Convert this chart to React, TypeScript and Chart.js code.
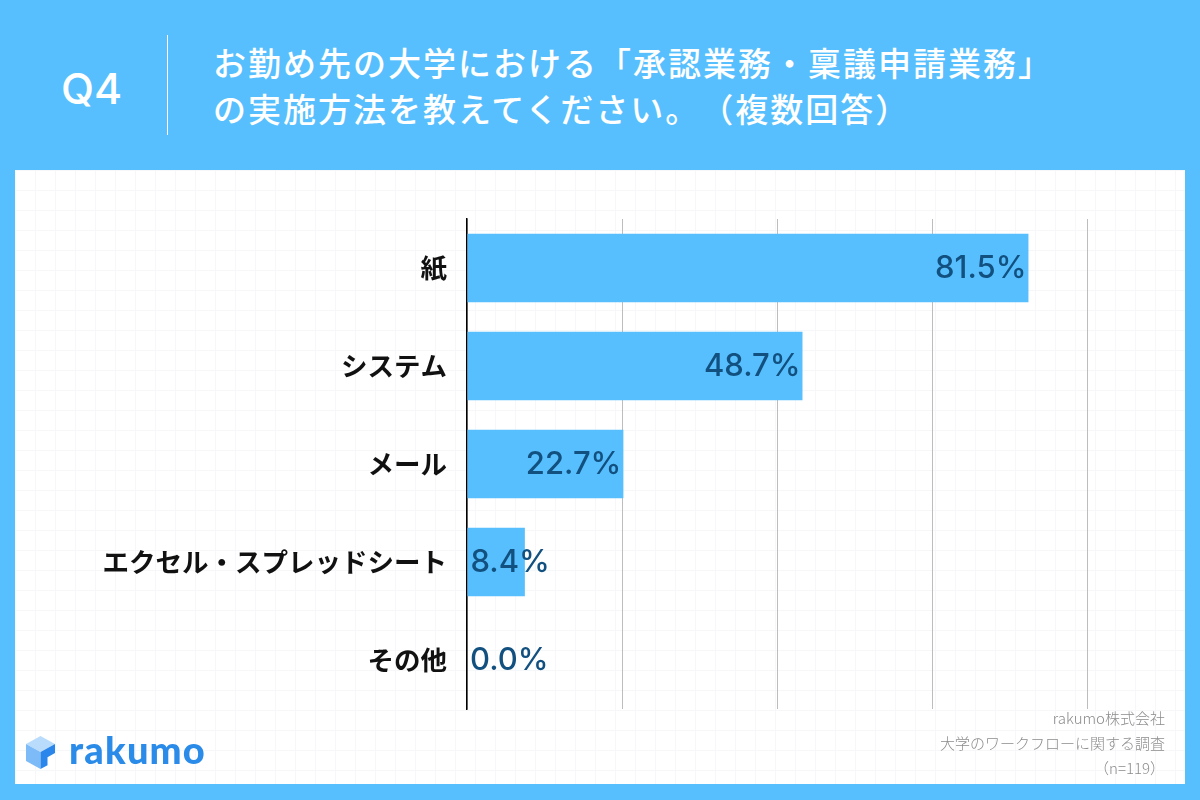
import React, { useEffect, useRef } from "react";
import { Chart, registerables } from "chart.js";

Chart.register(...registerables);

const categories = ["紙", "システム", "メール", "エクセル・スプレッドシート", "その他"];
const values = [81.5, 48.7, 22.7, 8.4, 0.0];
const axisMax = 90;
const axisStep = 22.5;

const titleLines = [
  "お勤め先の大学における「承認業務・稟議申請業務」",
  "の実施方法を教えてください。（複数回答）",
];
const footLines = ["rakumo株式会社", "大学のワークフローに関する調査", "（n=119）"];

const BLUE = "#57BFFE";

const valueLabelPlugin = {
  id: "valueLabels",
  afterDatasetsDraw(chart: any) {
    const ctx = chart.ctx;
    const meta = chart.getDatasetMeta(0);
    const data = chart.data.datasets[0].data as number[];
    ctx.save();
    ctx.font = '500 31px Inter, Roboto, "Liberation Sans", sans-serif';
    ctx.fillStyle = "#12507f";
    ctx.textBaseline = "middle";
    meta.data.forEach((bar: any, i: number) => {
      const txt = data[i].toFixed(1) + "%";
      const w = ctx.measureText(txt).width;
      const left = Math.min(bar.base, bar.x);
      const right = Math.max(bar.base, bar.x);
      if (right - left >= w + 6) {
        ctx.textAlign = "right";
        ctx.fillText(txt, right - 2, bar.y + 1);
      } else {
        ctx.textAlign = "left";
        ctx.fillText(txt, left + 3, bar.y + 1);
      }
    });
    ctx.restore();
  },
};

function ChartCanvas() {
  const ref = useRef<HTMLCanvasElement | null>(null);
  useEffect(() => {
    if (!ref.current) return;
    const chart = new Chart(ref.current, {
      type: "bar",
      data: {
        labels: categories,
        datasets: [
          {
            data: values,
            backgroundColor: BLUE,
            borderWidth: 0,
            barPercentage: 0.7,
            categoryPercentage: 1,
          },
        ],
      },
      options: {
        indexAxis: "y",
        responsive: false,
        animation: false,
        layout: { padding: { left: 0, right: 113, top: 219, bottom: 91 } },
        plugins: { legend: { display: false }, tooltip: { enabled: false } },
        scales: {
          x: {
            min: 0,
            max: axisMax,
            ticks: { display: false, stepSize: axisStep },
            grid: { color: "#bdbdbd", lineWidth: 1, drawTicks: false },
            border: { display: false },
            afterFit: (s: any) => {
              s.height = 0;
            },
          },
          y: {
            grid: { display: false, drawTicks: false },
            border: { display: true, color: "#000", width: 1.5 },
            ticks: {
              color: "#111",
              padding: 20,
              font: { family: '"Noto Sans CJK JP", sans-serif', size: 26.5, weight: "bold" },
            },
            afterFit: (s: any) => {
              s.width = 467;
            },
          },
        },
      } as any,
      plugins: [valueLabelPlugin],
    });
    return () => chart.destroy();
  }, []);
  return (
    <canvas
      ref={ref}
      width={1200}
      height={800}
      style={{ position: "absolute", left: 0, top: 0, width: 1200, height: 800 }}
    />
  );
}

function Logo() {
  return (
    <div style={{ position: "absolute", left: 26, top: 735, display: "flex", alignItems: "center" }}>
      <svg width="29" height="33" viewBox="0 0 29 33">
        <polygon points="14.5,0 29,8 14.5,16 0,8" fill="#b9dcfc" />
        <polygon points="0,8 14.5,16 14.5,33 0,25" fill="#7cbaf8" />
        <polygon points="14.5,16 29,8 29,17 21.5,21.3 21.5,29.2 14.5,33" fill="#2a86ea" />
      </svg>
      <span
        style={{
          marginLeft: 14,
          marginTop: -6,
          fontFamily: "Lato, sans-serif",
          fontWeight: 900,
          fontSize: 38,
          color: "#2b8be8",
          letterSpacing: 1.2,
          lineHeight: "40px",
        }}
      >
        rakumo
      </span>
    </div>
  );
}

export default function App() {
  return (
    <div
      style={{
        position: "fixed",
        left: 0,
        top: 0,
        width: 1200,
        height: 800,
        background: BLUE,
        overflow: "hidden",
      }}
    >
      <div
        style={{
          position: "absolute",
          left: 61,
          top: 60,
          fontFamily: "Inter, Arial, sans-serif",
          fontWeight: 500,
          fontSize: 43,
          lineHeight: "56px",
          color: "#fff",
        }}
      >
        Q4
      </div>
      <div style={{ position: "absolute", left: 167, top: 35, width: 1, height: 100, background: "#fff" }} />
      <div
        style={{
          position: "absolute",
          left: 213,
          top: 39,
          fontFamily: '"Noto Sans CJK JP", sans-serif',
          fontWeight: 500,
          fontSize: 33,
          lineHeight: "46px",
          letterSpacing: 2,
          color: "#fff",
          whiteSpace: "nowrap",
          textSpacingTrim: "space-all",
        } as any}
      >
        {titleLines.map((l, i) => (
          <div key={i}>{l}</div>
        ))}
      </div>
      <div
        style={{
          position: "absolute",
          left: 15,
          top: 170,
          width: 1170,
          height: 614,
          background: "#fff",
          backgroundImage:
            "linear-gradient(#f6f7f9 1px, transparent 1px), linear-gradient(90deg, #f6f7f9 1px, transparent 1px)",
          backgroundSize: "20px 20px",
        }}
      />
      <ChartCanvas />
      <div
        style={{
          position: "absolute",
          right: 35,
          top: 705,
          textAlign: "right",
          fontFamily: '"Noto Sans CJK JP", sans-serif',
          fontWeight: 300,
          fontSize: 15,
          lineHeight: "25px",
          color: "#8c8c8c",
          whiteSpace: "nowrap",
          textSpacingTrim: "space-all",
        } as any}
      >
        {footLines.map((l, i) => (
          <div key={i}>{l}</div>
        ))}
      </div>
      <Logo />
    </div>
  );
}
